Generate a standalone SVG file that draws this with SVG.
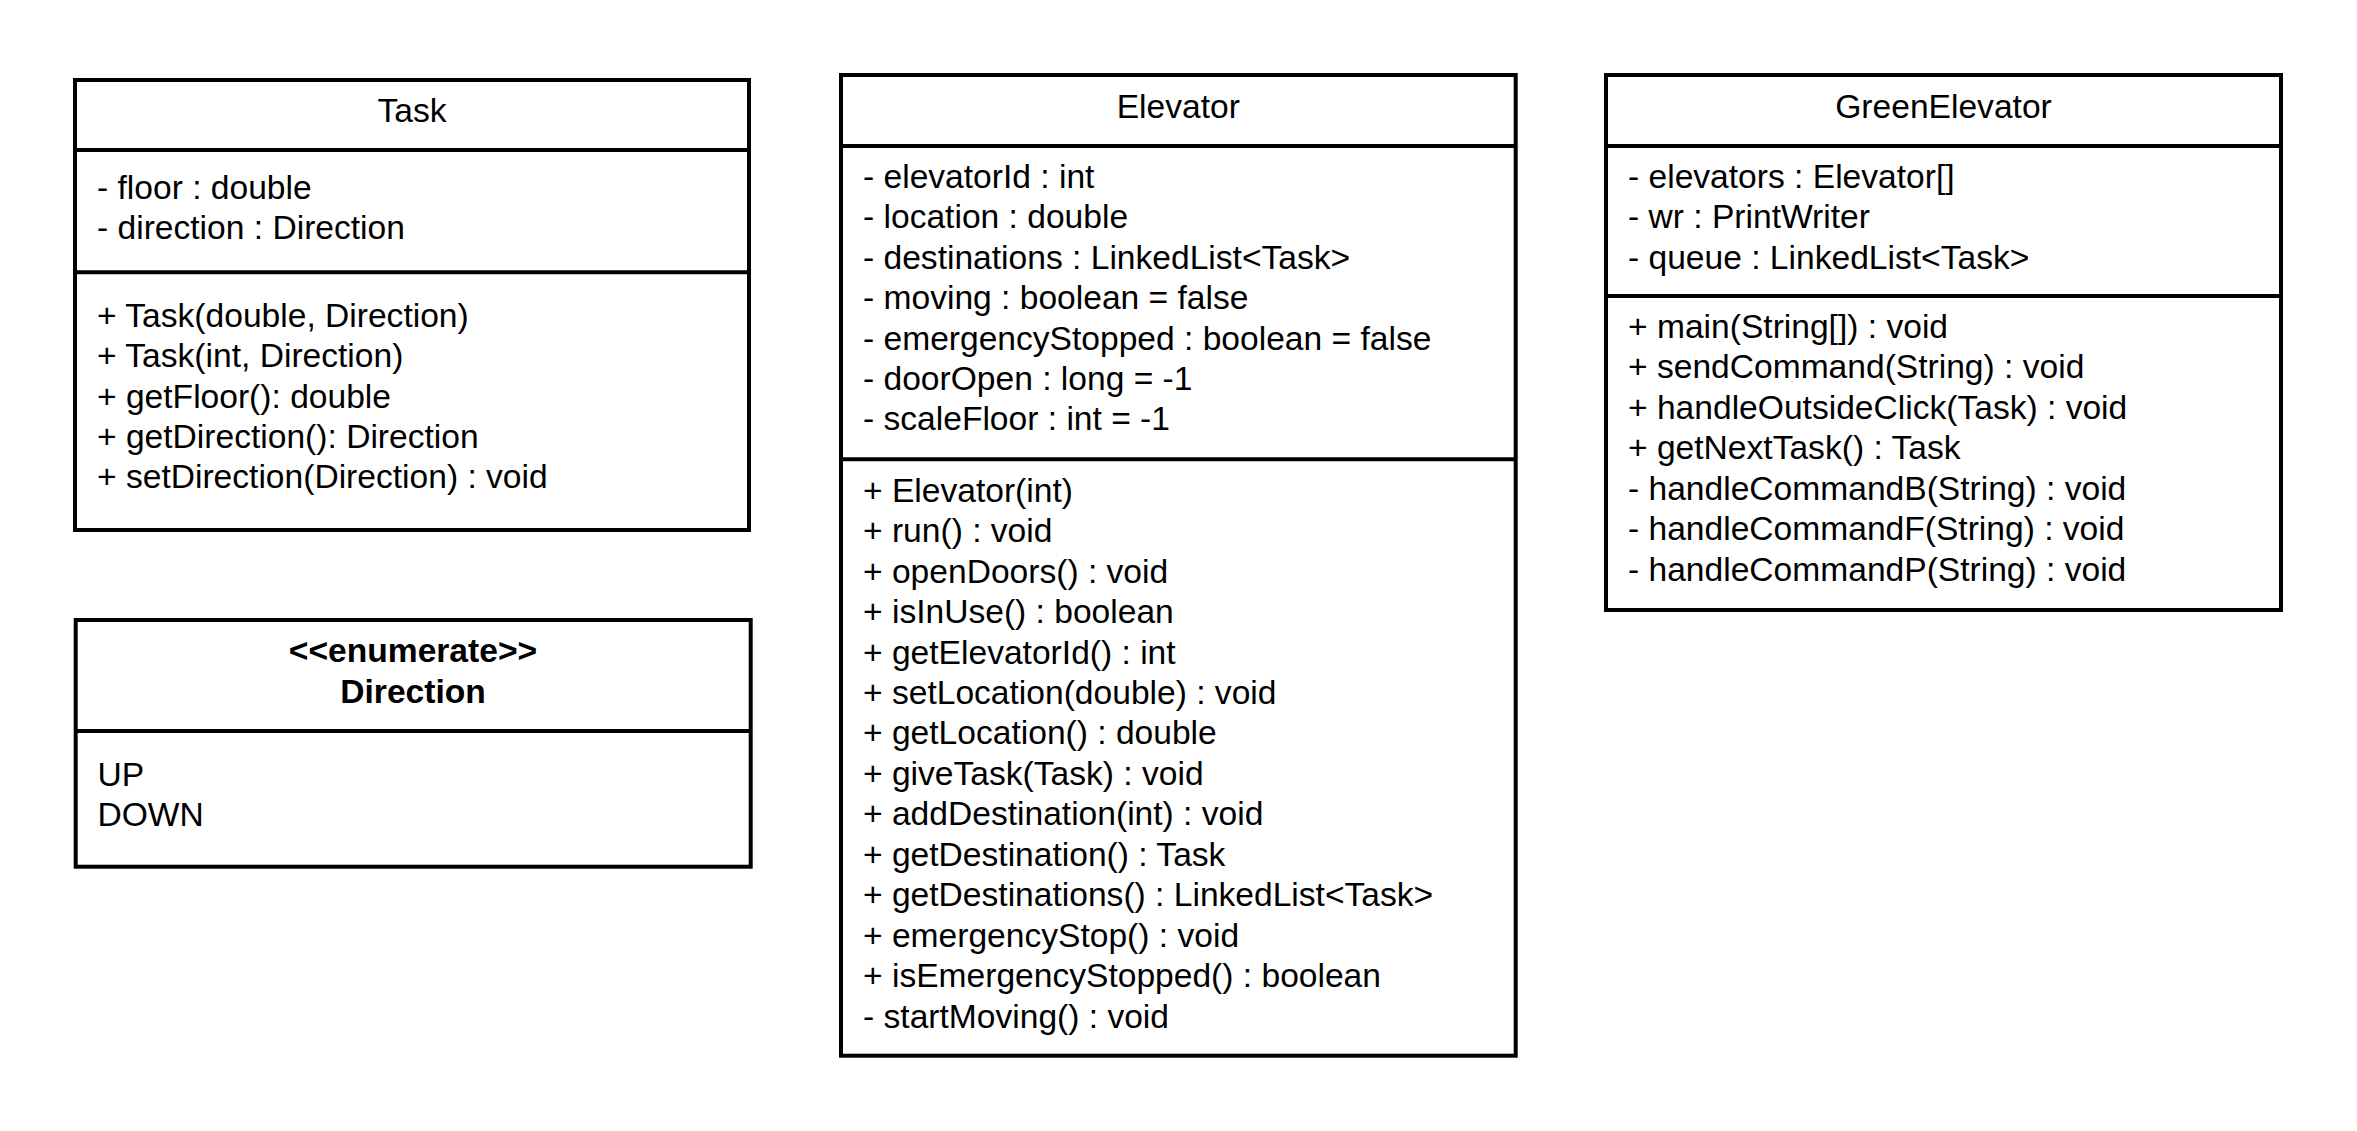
<svg xmlns="http://www.w3.org/2000/svg" width="2357" height="1131" viewBox="0 0 2357 1131">
<style>
.box{fill:#ffffff;stroke:#000000;stroke-width:4}
.sep{stroke:#000000;stroke-width:4;fill:none}
text{font-family:"Liberation Sans",Arial,Helvetica,sans-serif;font-size:33.6px;fill:#000000}
.title{text-anchor:middle}
.bold{font-weight:bold;text-anchor:middle}
</style>
<rect x="0" y="0" width="2357" height="1131" fill="#ffffff"/>
<g id="Task">
<rect class="box" x="75" y="80" width="674" height="450"/>
<line class="sep" x1="75" y1="150" x2="749" y2="150"/>
<line class="sep" x1="75" y1="272.3" x2="749" y2="272.3"/>
<text class="title" x="412" y="122">Task</text>
<text x="97" y="198.5">- floor : double</text>
<text x="97" y="238.9">- direction : Direction</text>
<text x="97" y="326.7">+ Task(double, Direction)</text>
<text x="97" y="367.1">+ Task(int, Direction)</text>
<text x="97" y="407.5">+ getFloor(): double</text>
<text x="97" y="447.9">+ getDirection(): Direction</text>
<text x="97" y="488.3">+ setDirection(Direction) : void</text>
</g>
<g id="Direction">
<rect class="box" x="75.7" y="620" width="675" height="246.7"/>
<line class="sep" x1="75.7" y1="731" x2="750.7" y2="731"/>
<text class="bold" x="413" y="661.7">&lt;&lt;enumerate&gt;&gt;</text>
<text class="bold" x="413" y="703.3">Direction</text>
<text x="97.5" y="786">UP</text>
<text x="97.5" y="826.4">DOWN</text>
</g>
<g id="Elevator">
<rect class="box" x="841" y="75" width="674.7" height="980.7"/>
<line class="sep" x1="841" y1="146" x2="1515.7" y2="146"/>
<line class="sep" x1="841" y1="459.3" x2="1515.7" y2="459.3"/>
<text class="title" x="1178.3" y="118">Elevator</text>
<text x="863" y="187.7">- elevatorId : int</text>
<text x="863" y="228.2">- location : double</text>
<text x="863" y="268.6">- destinations : LinkedList&lt;Task&gt;</text>
<text x="863" y="309.1">- moving : boolean = false</text>
<text x="863" y="349.5">- emergencyStopped : boolean = false</text>
<text x="863" y="390">- doorOpen : long = -1</text>
<text x="863" y="430.4">- scaleFloor : int = -1</text>
<text x="863" y="501.7">+ Elevator(int)</text>
<text x="863" y="542.1">+ run() : void</text>
<text x="863" y="582.6">+ openDoors() : void</text>
<text x="863" y="623">+ isInUse() : boolean</text>
<text x="863" y="663.5">+ getElevatorId() : int</text>
<text x="863" y="703.9">+ setLocation(double) : void</text>
<text x="863" y="744.4">+ getLocation() : double</text>
<text x="863" y="784.8">+ giveTask(Task) : void</text>
<text x="863" y="825.3">+ addDestination(int) : void</text>
<text x="863" y="865.7">+ getDestination() : Task</text>
<text x="863" y="906.2">+ getDestinations() : LinkedList&lt;Task&gt;</text>
<text x="863" y="946.6">+ emergencyStop() : void</text>
<text x="863" y="987.1">+ isEmergencyStopped() : boolean</text>
<text x="863" y="1027.5">- startMoving() : void</text>
</g>
<g id="GreenElevator">
<rect class="box" x="1606" y="75" width="675" height="535"/>
<line class="sep" x1="1606" y1="146" x2="2281" y2="146"/>
<line class="sep" x1="1606" y1="296" x2="2281" y2="296"/>
<text class="title" x="1943.5" y="118">GreenElevator</text>
<text x="1628" y="187.7">- elevators : Elevator[]</text>
<text x="1628" y="228.2">- wr : PrintWriter</text>
<text x="1628" y="268.6">- queue : LinkedList&lt;Task&gt;</text>
<text x="1628" y="338">+ main(String[]) : void</text>
<text x="1628" y="378.4">+ sendCommand(String) : void</text>
<text x="1628" y="418.9">+ handleOutsideClick(Task) : void</text>
<text x="1628" y="459.3">+ getNextTask() : Task</text>
<text x="1628" y="499.8">- handleCommandB(String) : void</text>
<text x="1628" y="540.2">- handleCommandF(String) : void</text>
<text x="1628" y="580.7">- handleCommandP(String) : void</text>
</g>
<g id="connectors"></g>
</svg>
